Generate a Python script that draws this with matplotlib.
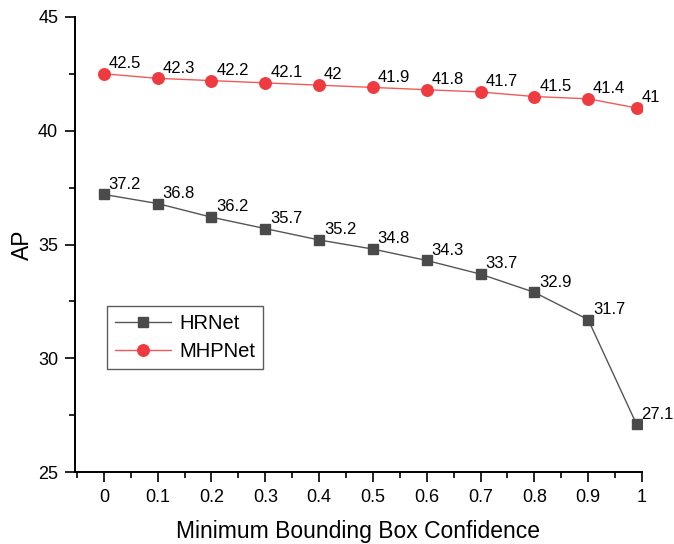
import matplotlib
matplotlib.use("Agg")
import matplotlib.pyplot as plt
from matplotlib.ticker import MultipleLocator

plt.rcParams['font.family'] = ['Liberation Sans', 'DejaVu Sans']

x = [0, 0.1, 0.2, 0.3, 0.4, 0.5, 0.6, 0.7, 0.8, 0.9, 0.99]
hrnet = [37.2, 36.8, 36.2, 35.7, 35.2, 34.8, 34.3, 33.7, 32.9, 31.7, 27.1]
mhpnet = [42.5, 42.3, 42.2, 42.1, 42.0, 41.9, 41.8, 41.7, 41.5, 41.4, 41.0]
hr_labels = ["37.2", "36.8", "36.2", "35.7", "35.2", "34.8", "34.3", "33.7", "32.9", "31.7", "27.1"]
mh_labels = ["42.5", "42.3", "42.2", "42.1", "42", "41.9", "41.8", "41.7", "41.5", "41.4", "41"]
xticks = [0, 0.1, 0.2, 0.3, 0.4, 0.5, 0.6, 0.7, 0.8, 0.9, 1.0]
xticklabels = ["0", "0.1", "0.2", "0.3", "0.4", "0.5", "0.6", "0.7", "0.8", "0.9", "1"]

fig = plt.figure(figsize=(6.74, 5.44), dpi=100)
ax = fig.add_axes([0.111, 0.132, 0.9525 - 0.111, 0.969 - 0.132])

ax.plot(x, hrnet, color='#555555', lw=1.0, marker='s', ms=7.8, mfc='#4a4a4a', mec='#4a4a4a', label='HRNet')
ax.plot(x, mhpnet, color='#f25a5a', lw=1.0, marker='o', ms=8.3, mfc='#ef3b3f', mec='#ef3b3f', label='MHPNet')

for xi, yi, t in zip(x, hrnet, hr_labels):
    ax.annotate(t, (xi, yi), xytext=(3.5, 2), textcoords='offset points', fontsize=12, ha='left', va='bottom')
for xi, yi, t in zip(x, mhpnet, mh_labels):
    ax.annotate(t, (xi, yi), xytext=(3.5, 2), textcoords='offset points', fontsize=12, ha='left', va='bottom')

ax.set_xlim(-0.054, 1.0)
ax.set_ylim(25, 45)
ax.set_xticks(xticks)
ax.set_xticklabels(xticklabels)
ax.xaxis.set_minor_locator(MultipleLocator(0.05))
ax.yaxis.set_major_locator(MultipleLocator(5))
ax.yaxis.set_minor_locator(MultipleLocator(2.5))
ax.tick_params(which='both', direction='out', width=1.2, labelsize=13, pad=5)
ax.tick_params(which='major', length=7)
ax.tick_params(which='minor', length=4)
for s in ['top', 'right']:
    ax.spines[s].set_visible(False)
for s in ['left', 'bottom']:
    ax.spines[s].set_linewidth(1.4)

ax.set_xlabel('Minimum Bounding Box Confidence', fontsize=16.5, labelpad=10)
ax.set_ylabel('AP', fontsize=16.5, labelpad=3)

leg = ax.legend(loc='lower left', bbox_to_anchor=(0.056, 0.226), fontsize=14.5, frameon=True, fancybox=False,
                edgecolor='#333333', handlelength=2.8, borderpad=0.4, labelspacing=0.45, handletextpad=0.4,
                borderaxespad=0)
leg.get_frame().set_linewidth(1.0)

fig.savefig('out.png', dpi=100)
